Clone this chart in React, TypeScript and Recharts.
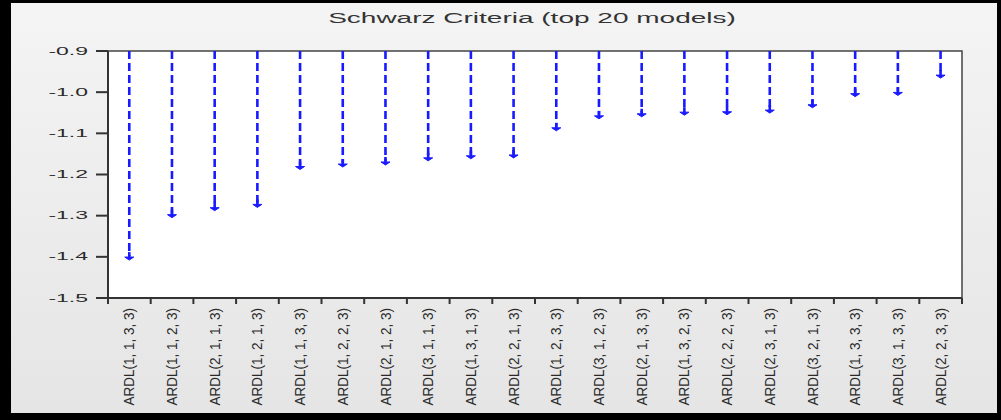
import React from "react";
import { ComposedChart, Bar, XAxis, YAxis, CartesianGrid, ReferenceArea } from "recharts";

const models = [
  "ARDL(1, 1, 3, 3)", "ARDL(1, 1, 2, 3)", "ARDL(2, 1, 1, 3)", "ARDL(1, 2, 1, 3)",
  "ARDL(1, 1, 3, 3)", "ARDL(1, 2, 2, 3)", "ARDL(2, 1, 2, 3)", "ARDL(3, 1, 1, 3)",
  "ARDL(1, 3, 1, 3)", "ARDL(2, 2, 1, 3)", "ARDL(1, 2, 3, 3)", "ARDL(3, 1, 2, 3)",
  "ARDL(2, 1, 3, 3)", "ARDL(1, 3, 2, 3)", "ARDL(2, 2, 2, 3)", "ARDL(2, 3, 1, 3)",
  "ARDL(3, 2, 1, 3)", "ARDL(1, 3, 3, 3)", "ARDL(3, 1, 3, 3)", "ARDL(2, 2, 3, 3)",
];
const schwarz = [
  -1.403, -1.300, -1.283, -1.275, -1.183, -1.177, -1.172, -1.162, -1.157, -1.155,
  -1.089, -1.060, -1.055, -1.051, -1.050, -1.046, -1.033, -1.006, -1.003, -0.961,
];
const yTicks = [-1.5, -1.4, -1.3, -1.2, -1.1, -1.0, -0.9];

const data = models.map((m, i) => ({ model: m, value: schwarz[i] }));

const W = 1001;
const H = 420;
const PLOT_LEFT = 108;
const PLOT_RIGHT = 962;
const PLOT_TOP = 51;
const PLOT_BOTTOM = 298;
const BAND = (PLOT_RIGHT - PLOT_LEFT) / models.length;
const FONT = '"Liberation Sans", Arial, sans-serif';
const BLUE = "#1a1aff";

function Drop(props: any) {
  const { x, y, width, height } = props;
  const cx = x + width / 2;
  const top = Math.min(y, y + height);
  const bottom = Math.max(y, y + height);
  return (
    <g>
      <line x1={cx} x2={cx} y1={top} y2={bottom - 2} stroke={BLUE} strokeWidth={2.6} strokeDasharray="8 4" />
      <line x1={cx} x2={cx} y1={bottom - 6} y2={bottom} stroke={BLUE} strokeWidth={2.6} />
      <polygon points={`${cx - 4.5},${bottom - 1} ${cx + 4.5},${bottom - 1} ${cx},${bottom + 2}`} fill={BLUE} stroke={BLUE} strokeWidth={1} />
    </g>
  );
}

function YTick(props: any) {
  const { x, y, payload } = props;
  return (
    <text transform={`translate(${x},${y}) scale(2.3,1)`} textAnchor="end" dy={3.6}
      fontFamily={FONT} fontSize={10} fill="#2a2a2a">
      {payload.value.toFixed(1)}
    </text>
  );
}

function XTick(props: any) {
  const { x, payload, index } = props;
  return (
    <g>
      <line x1={x - BAND / 2} x2={x - BAND / 2} y1={PLOT_BOTTOM} y2={PLOT_BOTTOM + 6} stroke="#333" strokeWidth={2} />
      {index === models.length - 1 && (
        <line x1={x + BAND / 2} x2={x + BAND / 2} y1={PLOT_BOTTOM} y2={PLOT_BOTTOM + 6} stroke="#333" strokeWidth={2} />
      )}
      <text transform={`translate(${x + 5},${PLOT_BOTTOM + 10}) rotate(-90) scale(1,1.1)`} textAnchor="end"
        fontFamily={FONT} fontSize={13.5} fill="#2a2a2a">
        {payload.value}
      </text>
    </g>
  );
}

export default function App() {
  return (
    <div style={{ position: "absolute", left: 0, top: 0, width: W, height: H, background: "#000" }}>
      <div style={{
        position: "absolute", left: 11, top: 3, width: W - 15, height: H - 10,
        background: "linear-gradient(#f4f4f4, #e5e5e5)",
      }} />
      <div style={{
        position: "absolute", left: 532, top: 10, fontFamily: FONT, fontSize: 14, lineHeight: "16px",
        color: "#333", transform: "translateX(-50%) scaleX(2)", whiteSpace: "nowrap",
      }}>
        Schwarz Criteria (top 20 models)
      </div>
      <div style={{ position: "absolute", left: 0, top: 0 }}>
        <ComposedChart width={W} height={H} data={data}
          margin={{ top: PLOT_TOP, right: W - PLOT_RIGHT, left: 0, bottom: 0 }}>
          <CartesianGrid horizontal={false} vertical={false} fill="#fff" />
          <XAxis dataKey="model" interval={0} height={H - PLOT_BOTTOM} tickLine={false}
            axisLine={{ stroke: "#333", strokeWidth: 2 }} tick={<XTick />} />
          <YAxis domain={[-1.5, -0.9]} ticks={yTicks} width={PLOT_LEFT} tickSize={12} tickMargin={8}
            allowDataOverflow tick={<YTick />} tickLine={{ stroke: "#333", strokeWidth: 2 }}
            axisLine={{ stroke: "#333", strokeWidth: 2 }} />
          <ReferenceArea y1={-1.5} y2={-0.9} fill="none" stroke="#444" strokeWidth={1.5} ifOverflow="visible" />
          <Bar dataKey="value" shape={<Drop />} isAnimationActive={false} />
        </ComposedChart>
      </div>
    </div>
  );
}
